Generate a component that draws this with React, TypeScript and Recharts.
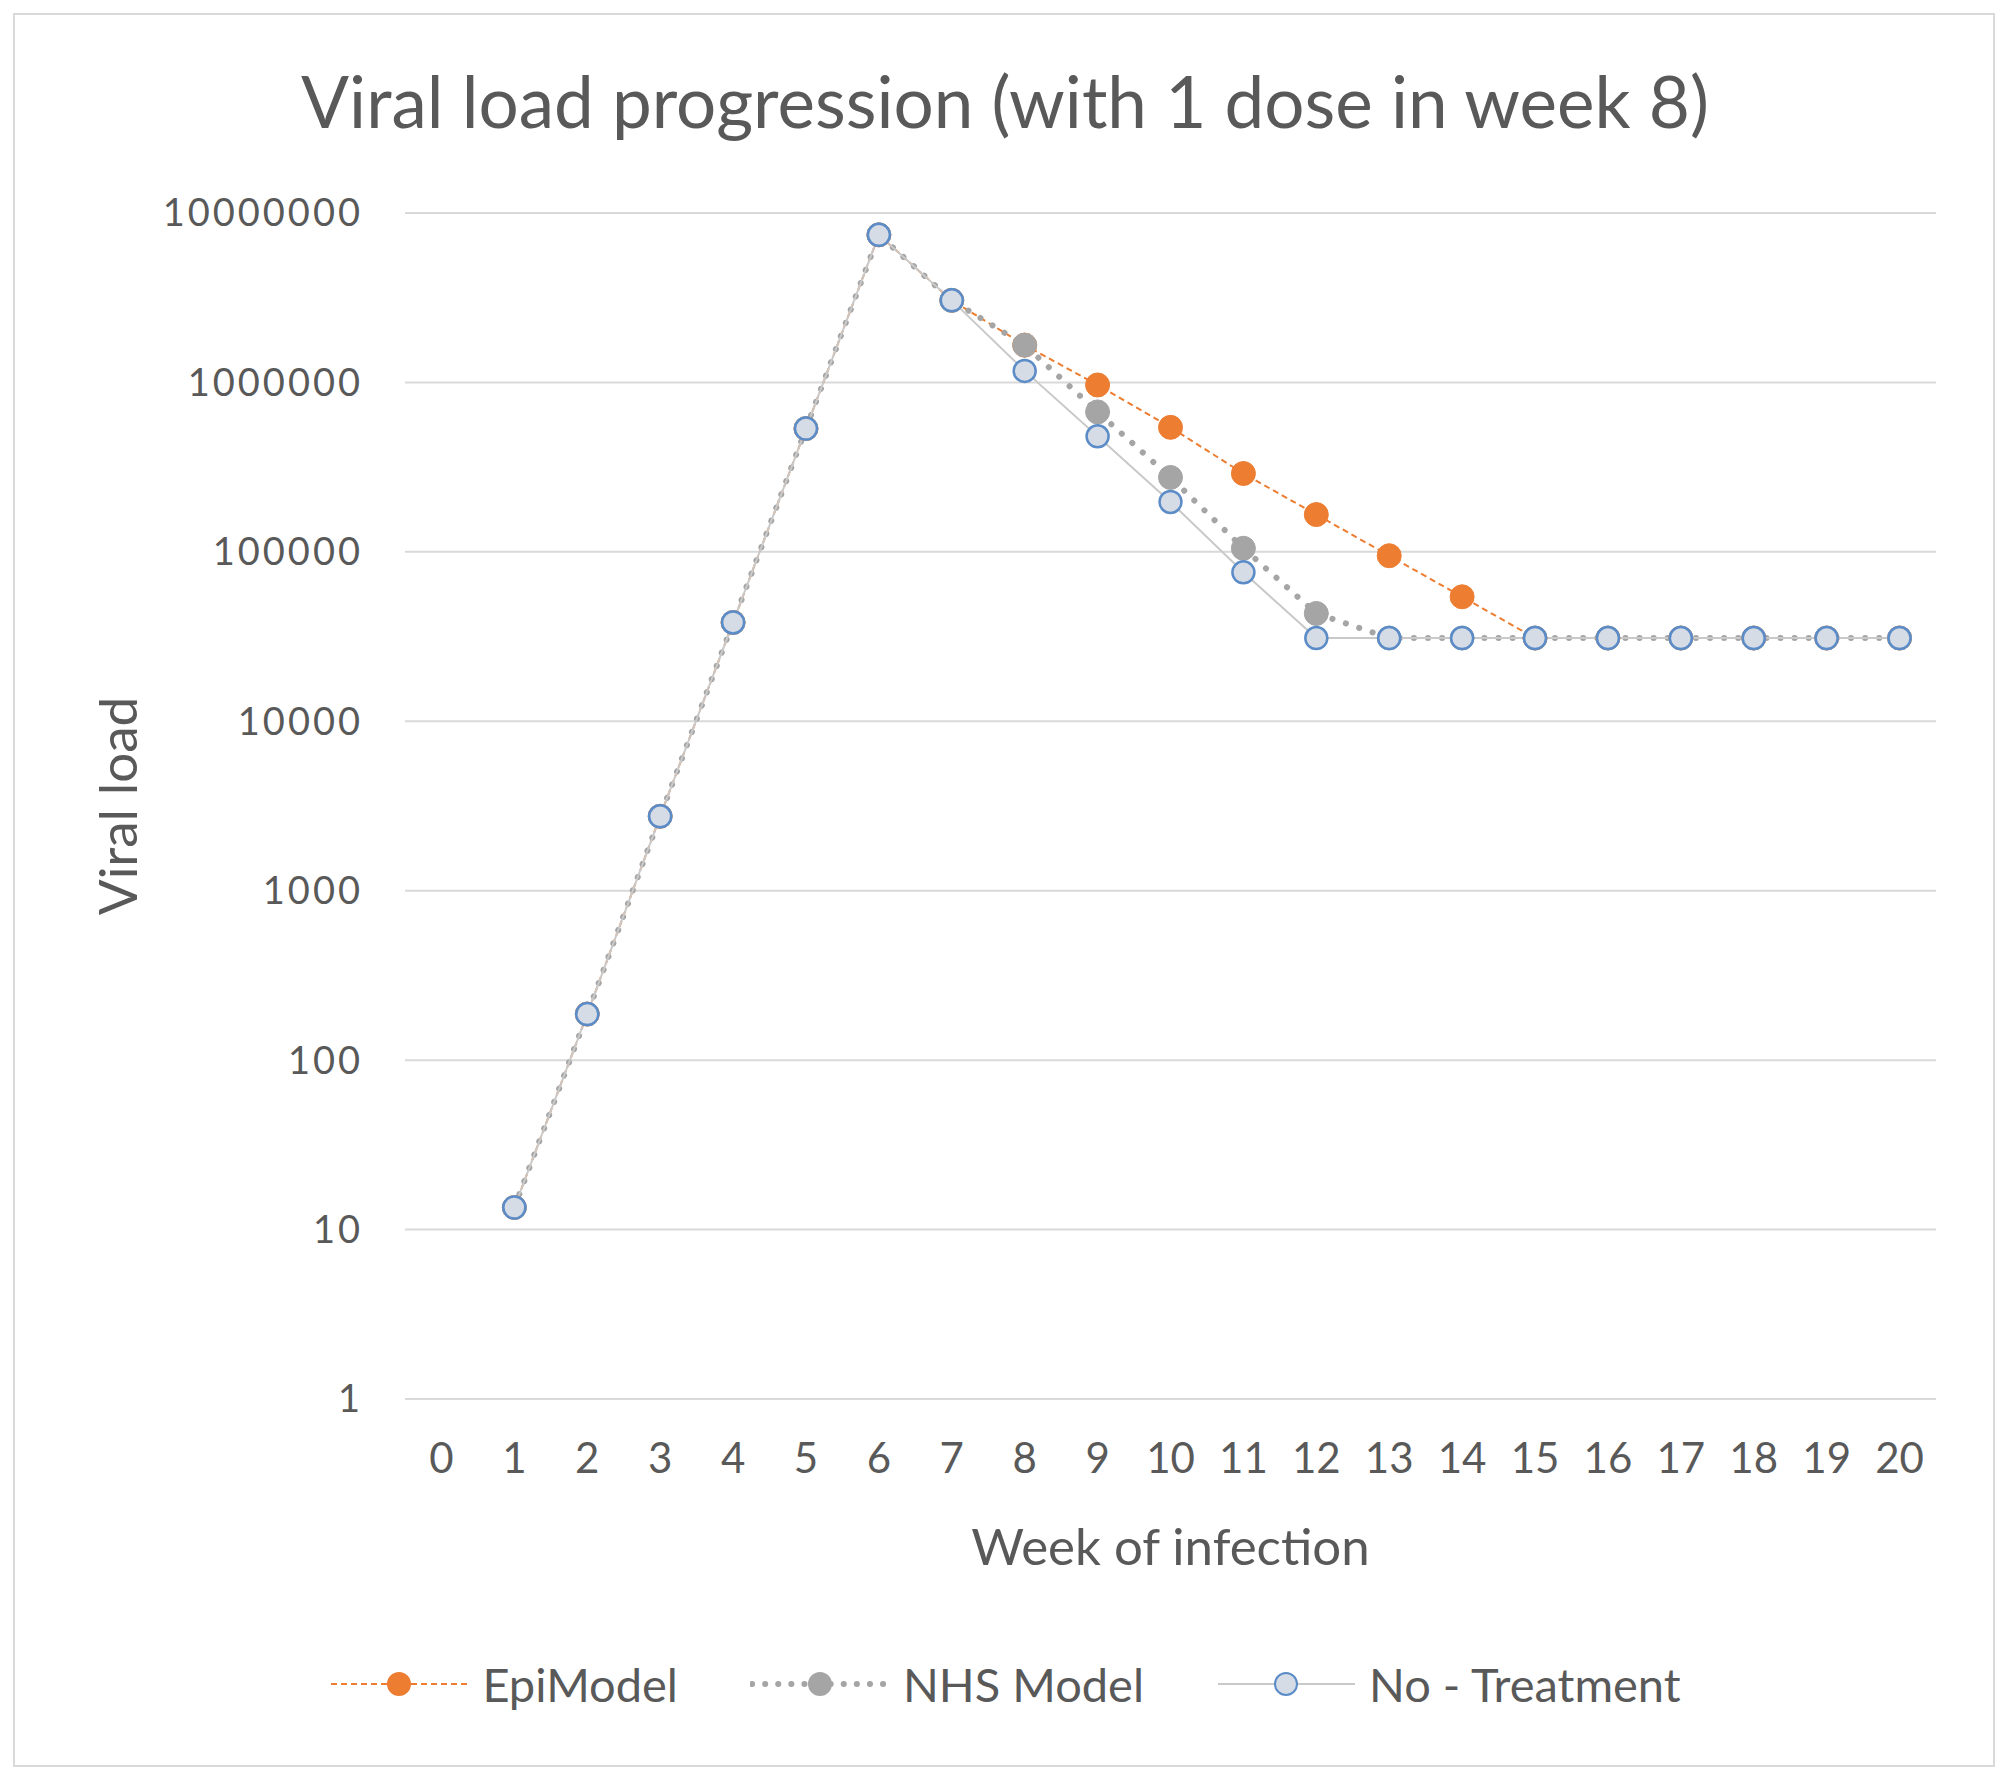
import { CartesianGrid, Label, Legend, Line, LineChart, XAxis, YAxis } from "recharts";

const weeks = [0, 1, 2, 3, 4, 5, 6, 7, 8, 9, 10, 11, 12, 13, 14, 15, 16, 17, 18, 19, 20];
const epiModel = [null, 13.5, 187, 2750, 38300, 534000, 7430000, 3050000, 1660000, 966000, 543000, 290000, 166000, 94900, 54300, 31000, 31000, 31000, 31000, 31000, 31000];
const nhsModel = [null, 13.5, 187, 2750, 38300, 534000, 7430000, 3050000, 1660000, 670000, 275000, 105000, 43300, 31000, 31000, 31000, 31000, 31000, 31000, 31000, 31000];
const noTreatment = [null, 13.5, 187, 2750, 38300, 534000, 7430000, 3050000, 1170000, 481000, 197000, 75700, 31000, 31000, 31000, 31000, 31000, 31000, 31000, 31000, 31000];
const yTicks = [1, 10, 100, 1000, 10000, 100000, 1000000, 10000000];

const rows = weeks.map((w, i) => ({ week: w, epi: epiModel[i], nhs: nhsModel[i], none: noTreatment[i] }));

const FONT = "Lato, 'Open Sans', sans-serif";
const TEXT = "#595959";
const ORANGE = "#ED7D31";
const GRAY = "#A5A5A5";

const legendItems = [
  { name: "EpiModel", stroke: ORANGE, dash: "6 4", width: 2, cap: "butt", dotFill: ORANGE, dotStroke: ORANGE },
  { name: "NHS Model", stroke: GRAY, dash: "0.1 13", width: 6, cap: "round", dotFill: GRAY, dotStroke: GRAY },
  { name: "No - Treatment", stroke: "#C9C9C9", dash: "0", width: 2, cap: "butt", dotFill: "#D6DCE5", dotStroke: "#5B8CC8" },
];

function renderLegend() {
  return (
    <div style={{ display: "flex", justifyContent: "center", gap: 72, fontFamily: FONT, fontSize: 47, color: TEXT }}>
      {legendItems.map((it) => (
        <div key={it.name} style={{ display: "flex", alignItems: "center", gap: 12 }}>
          <svg width={141} height={30}>
            <line x1={2} y1={15} x2={139} y2={15} stroke={it.stroke} strokeWidth={it.width} strokeDasharray={it.dash} strokeLinecap={it.cap as any} />
            <circle cx={70} cy={15} r={11} fill={it.dotFill} stroke={it.dotStroke} strokeWidth={2} />
          </svg>
          <span>{it.name}</span>
        </div>
      ))}
    </div>
  );
}

export default function App() {
  return (
    <div style={{ position: "absolute", left: 0, top: 0, width: 2010, height: 1779, background: "#fff" }}>
      <div style={{ position: "absolute", left: 13, top: 13, width: 1978, height: 1750, border: "2px solid #D9D9D9" }} />
      <div style={{ position: "absolute", left: 0, top: 58, width: 2010, textAlign: "center", fontFamily: FONT, fontSize: 71, color: TEXT }}>
        Viral load progression (with 1 dose in week 8)
      </div>
      <div style={{ position: "absolute", left: 0, top: 0 }}>
        <LineChart width={2010} height={1779} data={rows} margin={{ top: 213, right: 74, bottom: 280, left: 13 }}>
          <CartesianGrid vertical={false} stroke="#D9D9D9" strokeWidth={2} />
          <XAxis
            dataKey="week"
            type="number"
            domain={[-0.5, 20.5]}
            ticks={weeks}
            interval={0}
            height={100}
            axisLine={false}
            tickLine={false}
            tickMargin={38}
            tick={{ fill: TEXT, fontSize: 42, fontFamily: FONT }}
          >
            <Label
              content={({ viewBox }: any) => (
                <text x={viewBox.x + viewBox.width / 2} y={1545} textAnchor="middle" dominantBaseline="central" fill={TEXT} fontSize={51} fontFamily={FONT}>
                  Week of infection
                </text>
              )}
            />
          </XAxis>
          <YAxis
            scale="log"
            domain={[1, 10000000]}
            ticks={yTicks}
            interval={0}
            width={392}
            axisLine={false}
            tickLine={false}
            tickMargin={36}
            allowDataOverflow
            tickFormatter={(v: number) => String(v)}
            tick={{ fill: TEXT, fontSize: 38, fontFamily: FONT, letterSpacing: 3 }}
          >
            <Label
              content={({ viewBox }: any) => (
                <text x={116} y={viewBox.y + viewBox.height / 2} transform={`rotate(-90 116 ${viewBox.y + viewBox.height / 2})`} textAnchor="middle" dominantBaseline="central" fill={TEXT} fontSize={53} fontFamily={FONT}>
                  Viral load
                </text>
              )}
            />
          </YAxis>
          <Legend layout="vertical" align="center" verticalAlign="middle" wrapperStyle={{ top: 1656, left: 0, width: 2010 }} content={renderLegend} />
          <Line
            dataKey="epi"
            name="EpiModel"
            stroke={ORANGE}
            strokeWidth={2}
            strokeDasharray="6 4"
            dot={{ r: 12, fill: ORANGE, stroke: ORANGE, strokeWidth: 1, strokeDasharray: "0" }}
            isAnimationActive={false}
          />
          <Line
            dataKey="nhs"
            name="NHS Model"
            stroke={GRAY}
            strokeWidth={6}
            strokeDasharray="0.1 14"
            strokeLinecap="round"
            dot={{ r: 12, fill: GRAY, stroke: GRAY, strokeWidth: 1, strokeDasharray: "0" }}
            isAnimationActive={false}
          />
          <Line
            dataKey="none"
            name="No - Treatment"
            stroke="#C9C9C9"
            strokeWidth={2}
            dot={{ r: 11, fill: "#D6DCE5", stroke: "#5B8CC8", strokeWidth: 2.5 }}
            isAnimationActive={false}
          />
        </LineChart>
      </div>
    </div>
  );
}
